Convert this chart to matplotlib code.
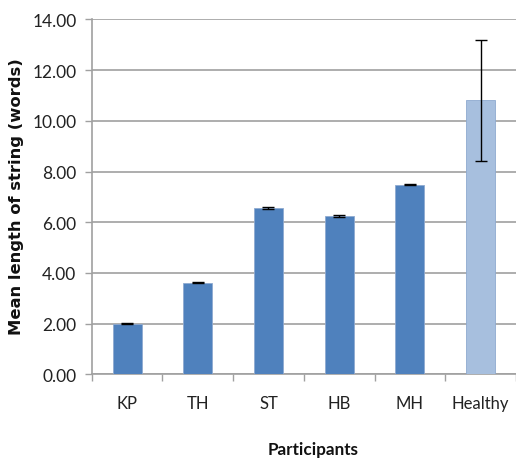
import matplotlib
matplotlib.use("Agg")
import matplotlib.pyplot as plt
import numpy as np

participants = ["KP", "TH", "ST", "HB", "MH", "Healthy"]
mean_length = [2.00, 3.62, 6.56, 6.25, 7.48, 10.81]
error = [0.02, 0.03, 0.03, 0.03, 0.02, 2.38]
y_ticks = [0, 2, 4, 6, 8, 10, 12, 14]

bar_colors = ["#4F81BD"] * 5 + ["#A7BFDE"]

plt.rcParams["font.family"] = ["Lato", "DejaVu Sans"]

W, H = 516, 464
fig = plt.figure(figsize=(W / 100, H / 100), dpi=100)
ax_left, ax_right = 91.7, 516.0
ax_top, ax_bottom = 20.4, 375.3
ax = fig.add_axes([ax_left / W, (H - ax_bottom) / H,
                   (ax_right - ax_left) / W, (ax_bottom - ax_top) / H])

x = np.arange(len(participants))
ax.bar(x, mean_length, width=0.41, color=bar_colors, zorder=3,
       edgecolor="#8FAAD0", linewidth=0.6)
ax.errorbar(x, mean_length, yerr=error, fmt="none", ecolor="black",
            elinewidth=1.0, capsize=4.5, capthick=1.0, zorder=4)

cat_px = 71.6
ax.set_xlim(-0.5, -0.5 + (ax_right - ax_left) / cat_px)
ax.set_ylim(0, 14)

ax.set_yticks(y_ticks)
ax.set_yticklabels([f"{v:.2f}" for v in y_ticks])
ax.set_xticks(x)
ax.set_xticklabels(participants)
ax.set_xticks(np.arange(-0.5, len(participants) + 0.5, 1), minor=True)
ax.tick_params(axis="x", which="major", length=0, pad=15, labelsize=12,
               labelcolor="#222222")
ax.tick_params(axis="x", which="minor", length=5, width=1.0, color="#A0A0A0",
               direction="out")
ax.tick_params(axis="y", length=5, width=1.0, color="#A0A0A0",
               labelsize=12.5, labelcolor="#222222", pad=6)

ax.yaxis.grid(True, color="#A0A0A0", linewidth=1.2, zorder=0)
ax.set_axisbelow(True)

for side in ["top", "right"]:
    ax.spines[side].set_visible(False)
for side in ["left", "bottom"]:
    ax.spines[side].set_color("#A0A0A0")
    ax.spines[side].set_linewidth(1.2)

# axis titles placed in figure pixel coordinates
fig.text(17 / W, 1 - 197 / H, "Mean length of string (words)",
         rotation=90, ha="center", va="center", fontsize=11.8,
         fontweight="bold", family="DejaVu Sans", color="#111111")
fig.text(313 / W, 1 - 450 / H, "Participants", ha="center", va="center",
         fontsize=12.3, fontweight="bold", color="#111111")

fig.savefig("out.png", dpi=100)
